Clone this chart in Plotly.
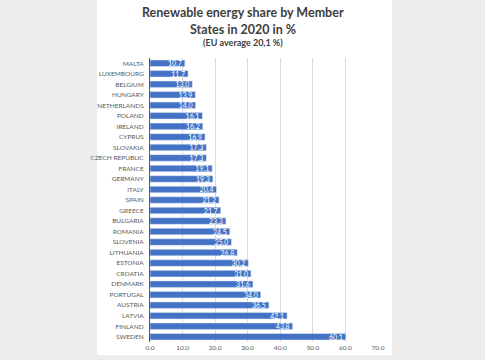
import plotly.graph_objects as go

countries = ["MALTA", "LUXEMBOURG", "BELGIUM", "HUNGARY", "NETHERLANDS", "POLAND",
             "IRELAND", "CYPRUS", "SLOVAKIA", "CZECH REPUBLIC", "FRANCE", "GERMANY",
             "ITALY", "SPAIN", "GREECE", "BULGARIA", "ROMANIA", "SLOVENIA", "LITHUANIA",
             "ESTONIA", "CROATIA", "DENMARK", "PORTUGAL", "AUSTRIA", "LATVIA",
             "FINLAND", "SWEDEN"]
shares = [10.7, 11.7, 13.0, 13.9, 14.0, 16.1, 16.2, 16.9, 17.3, 17.3, 19.1, 19.3,
          20.4, 21.2, 21.7, 23.3, 24.5, 25.0, 26.8, 30.2, 31.0, 31.6, 34.0, 36.5,
          42.1, 43.8, 60.1]
x_ticks = [0, 10, 20, 30, 40, 50, 60, 70]
title_lines = ["Renewable energy share by Member", "States in 2020 in %"]
subtitle = "(EU average 20,1 %)"

W, H = 485, 360
ml, mr, mt, mb = 150, 107, 58, 18
pw, ph = W - ml - mr, H - mt - mb


def px_x(x):
    return (x - ml) / pw


def px_y(y):
    return (H - mb - y) / ph


fig = go.Figure(go.Bar(
    x=shares, y=countries, orientation="h",
    marker=dict(color="#4472C4"),
    width=0.62,
    text=[f"{v:.1f}" for v in shares],
    textposition="inside", insidetextanchor="end",
    constraintext="none",
    textfont=dict(color="white", size=7, family="Lato"),
    cliponaxis=False,
))

annotations = []
for txt, yc, size in [(title_lines[0], 12, 12.5), (title_lines[1], 29, 12.5), (subtitle, 43, 9)]:
    annotations.append(dict(text=f"<b>{txt}</b>", xref="paper", yref="paper",
                            x=px_x(243), y=px_y(yc), xanchor="center", yanchor="middle",
                            showarrow=False,
                            font=dict(size=size, color="#404040", family="Lato")))

fig.update_layout(
    width=W, height=H,
    margin=dict(l=ml, r=mr, t=mt, b=mb, autoexpand=False),
    paper_bgcolor="#EDEDED", plot_bgcolor="white",
    font=dict(family="Lato", color="#595959"),
    showlegend=False,
    xaxis=dict(range=[0, 70], tickvals=x_ticks,
               ticktext=[f"{t:.1f}" for t in x_ticks],
               showgrid=True, gridcolor="#D9D9D9", gridwidth=1,
               zeroline=False, showline=False, ticks="",
               tickfont=dict(size=6.5, color="#595959"), automargin=False),
    yaxis=dict(autorange=False, range=[len(countries) - 0.5, -0.5],
               showline=True, linecolor="#595959", linewidth=1,
               showgrid=False, zeroline=False, ticks="",
               tickfont=dict(size=6.5, color="#595959"), automargin=False,
               ticklabelstandoff=4),
    shapes=[dict(type="rect", xref="paper", yref="paper",
                 x0=px_x(97), x1=px_x(392), y0=px_y(355), y1=px_y(0),
                 fillcolor="white", line=dict(width=0), layer="below")],
    annotations=annotations,
)

fig.write_html("out.html",
               config={"displayModeBar": False},
               post_script="document.body.style.margin='0px';"
                           "document.body.style.background='#EDEDED';"
                           "document.body.style.overflow='hidden';")
